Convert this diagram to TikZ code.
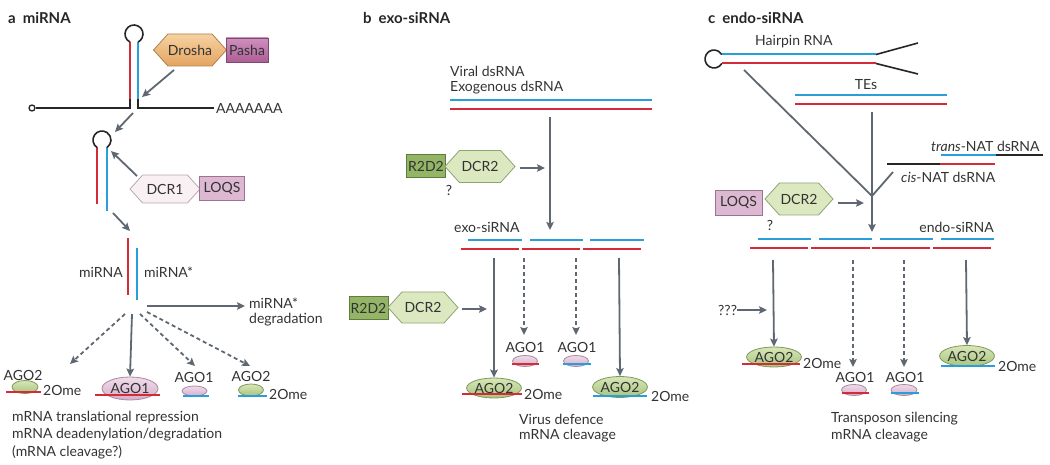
\documentclass[tikz,border=0pt]{standalone}
\usepackage{fontspec}
\setmainfont{Lato}
\usetikzlibrary{arrows.meta,shapes.geometric,shapes.symbols}
\definecolor{rnablue}{HTML}{2A9ED8}
\definecolor{rnared}{HTML}{D42B3A}
\definecolor{arrgrey}{HTML}{5F6872}
\definecolor{txtgrey}{HTML}{333333}
\definecolor{droshaA}{HTML}{F6D2A2}
\definecolor{droshaB}{HTML}{E4A460}
\definecolor{droshaD}{HTML}{B0804A}
\definecolor{pashaA}{HTML}{CE90BE}
\definecolor{pashaB}{HTML}{AE5E96}
\definecolor{pashaD}{HTML}{7E4A70}
\definecolor{dcrOneF}{HTML}{F9F0F4}
\definecolor{dcrOneD}{HTML}{B8A8B0}
\definecolor{loqsF}{HTML}{DDB8D2}
\definecolor{loqsD}{HTML}{9C7490}
\definecolor{rtwoF}{HTML}{94B466}
\definecolor{rtwoD}{HTML}{5E7C3C}
\definecolor{dcrTwoF}{HTML}{DCE8C0}
\definecolor{dcrTwoD}{HTML}{90A474}
\definecolor{agoTwoA}{HTML}{D8E6B8}
\definecolor{agoTwoB}{HTML}{A8C47E}
\definecolor{agoTwoD}{HTML}{7E9A58}
\definecolor{agoOneA}{HTML}{F0DCEA}
\definecolor{agoOneB}{HTML}{D6AECB}
\definecolor{agoOneD}{HTML}{A88AA0}
\tikzset{
 lbl/.style={text=txtgrey, font=\fontsize{14}{16}\selectfont, inner sep=0pt},
 ttl/.style={text=black!85, font=\fontsize{15}{17}\selectfont\bfseries, inner sep=0pt},
 arr/.style={draw=arrgrey, line width=1.8pt, -{Stealth[length=8pt,width=7.5pt,inset=1.5pt]}},
 darr/.style={arr, dash pattern=on 4pt off 3pt},
 gline/.style={draw=arrgrey, line width=1.8pt},
 bs/.style={draw=rnablue, line width=2pt},
 rs/.style={draw=rnared, line width=2pt},
 ks/.style={draw=black!85, line width=1.6pt},
 hexa/.style={shape=signal, signal to=east and west, signal pointer angle=96, lbl, line width=0.8pt},
 boxa/.style={rectangle, lbl, line width=0.8pt},
 egg/.style={ellipse, lbl, line width=0.8pt},
 agotwo/.style={egg, draw=agoTwoD, top color=agoTwoA, bottom color=agoTwoB},
 agoone/.style={egg, draw=agoOneD, top color=agoOneA, bottom color=agoOneB},
 dcrtwo/.style={hexa, draw=dcrTwoD, fill=dcrTwoF, minimum width=70pt, minimum height=32pt},
 rtwo/.style={boxa, draw=rtwoD, fill=rtwoF, minimum width=39pt, minimum height=23pt},
 loqsbox/.style={boxa, draw=loqsD, fill=loqsF, minimum width=47pt, minimum height=25pt},
}
\begin{document}
\begin{tikzpicture}[x=1pt,y=-1pt]
\useasboundingbox (0,0) rectangle (1050,465);
%% ---------------- panel a ----------------
\node[ttl, anchor=west] (ta) at (8,18) {a\hspace{7pt}miRNA};
\node[lbl, anchor=west] (polya) at (216,108) {AAAAAAA};
\node[circle, draw=black!85, line width=1.3pt, fill=white, minimum size=6pt, inner sep=0pt] (capa) at (32,108) {};
\draw[ks] (130,97) -- (130,108) -- (capa);
\draw[ks] (138,97) -- (138,108) -- ([xshift=-2pt]polya.west);
\draw[rs] (130,42) -- (130,99);
\draw[bs] (138,42) -- (138,99);
\draw[ks] (130,42.06) arc[start angle=116.4, end angle=423.6, radius=9];
\node[hexa, draw=droshaD, top color=droshaA, bottom color=droshaB, minimum width=70pt, minimum height=32pt] (drosha) at (190,50) {Drosha};
\node[boxa, draw=pashaD, top color=pashaA, bottom color=pashaB, minimum width=42pt, minimum height=24pt] (pasha) at (247,50) {Pasha};
\coordinate (a1s) at (174,70); \coordinate (a1e) at (142,97);
\draw[arr] (a1s) -- (a1e);
\coordinate (a2s) at (133,113); \coordinate (a2e) at (115,132);
\draw[arr] (a2s) -- (a2e);
% pre-miRNA
\draw[rs] (97,147.5) -- (97,204);
\draw[bs] (107,147.5) -- (107,211);
\draw[ks] (97,147.48) arc[start angle=123.75, end angle=416.25, radius=9];
\node[hexa, draw=dcrOneD, fill=dcrOneF, minimum width=70pt, minimum height=28pt] (dcr1) at (165,189) {DCR1};
\node[loqsbox, minimum width=45pt, minimum height=24pt] (loqsa) at (222,188) {LOQS};
\coordinate (a3s) at (137,176); \coordinate (a3e) at (111,151);
\draw[arr] (a3s) -- (a3e);
\coordinate (a4s) at (113,213); \coordinate (a4e) at (130,231);
\draw[arr] (a4s) -- (a4e);
% duplex
\draw[rs] (128,238) -- (128,295);
\draw[bs] (137,248) -- (137,300);
\node[lbl, anchor=east] (mir) at (123,272) {miRNA};
\node[lbl, anchor=west] (mirs) at (144,272) {miRNA*};
\node[lbl, anchor=west] (degr1) at (249,303) {miRNA*};
\node[lbl, anchor=west] (degr2) at (249,320) {degradation};
\coordinate (a5s) at (147,306); \coordinate (a5e) at (245,306);
\draw[arr] (a5s) -- (a5e);
% AGO nodes a
\node[agotwo, minimum width=26pt, minimum height=13pt] (ag2a) at (25,387) {};
\node[lbl] (ag2at) at (23,375) {AGO2};
\draw[rs] (6,392) -- (41,392);
\node[lbl, anchor=west] (om1) at (43,390) {2Ome};
\node[agoone, minimum width=56pt, minimum height=23pt] (ag1a) at (130,388.5) {AGO1};
\draw[rs] (95,395) -- (160,395);
\node[agoone, minimum width=25pt, minimum height=10pt] (ag1b) at (194.5,391) {};
\node[lbl] (ag1bt) at (194,377) {AGO1};
\draw[bs] (183,396) -- (209,396);
\node[agotwo, minimum width=25pt, minimum height=12pt] (ag2b) at (251,390) {};
\node[lbl] (ag2bt) at (251,376) {AGO2};
\draw[bs] (238,396) -- (267,396);
\node[lbl, anchor=west] (om2) at (269,394) {2Ome};
\coordinate (d1s) at (125,314); \coordinate (d2s) at (132,314);
\coordinate (d3s) at (140,314); \coordinate (d4s) at (147,312);
\draw[darr] (d1s) -- (70,364);
\draw[arr] (d2s) -- (ag1a.north);
\draw[darr] (d3s) -- (195,366);
\draw[darr] (d4s) -- (250,366);
\node[lbl, anchor=west] (fa1) at (12,418) {mRNA translational repression};
\node[lbl, anchor=west] (fa2) at (12,435) {mRNA deadenylation/degradation};
\node[lbl, anchor=west] (fa3) at (12,452) {(mRNA cleavage?)};
%% ---------------- panel b ----------------
\node[ttl, anchor=west] (tb) at (363,18) {b\hspace{7pt}exo-siRNA};
\node[lbl, anchor=west] (vir) at (450,71) {Viral dsRNA};
\node[lbl, anchor=west] (exo) at (450,88) {Exogenous dsRNA};
\draw[bs] (450,100) -- (652,100);
\draw[rs] (450,109) -- (652,109);
\coordinate (b1s) at (550,117); \coordinate (b1e) at (550,230);
\draw[arr] (b1s) -- (b1e);
\node[rtwo] (r2a) at (426,166) {R2D2};
\node[dcrtwo] (dcr2a) at (480,166.5) {DCR2};
\node[lbl] (qb) at (449,190) {?};
\coordinate (b2e) at (545,168);
\draw[arr] ([xshift=4pt]dcr2a.east |- b2e) -- (b2e);
\node[lbl, anchor=west] (exos) at (454,227) {exo-siRNA};
\foreach \u/\v in {468/522,530/583,590/644} \draw[bs] (\u,240) -- (\v,240);
\foreach \u/\v in {461/519,522/580,583/641} \draw[rs] (\u,249) -- (\v,249);
\node[rtwo] (r2b) at (368.5,308) {R2D2};
\node[dcrtwo, minimum height=31pt] (dcr2b) at (423,307.5) {DCR2};
\coordinate (b3e) at (487,309);
\draw[arr] (462,309) -- (b3e);
\node[agotwo, minimum width=52pt, minimum height=20pt] (ag2c) at (494,388) {AGO2};
\draw[rs] (462,394) -- (522,394);
\node[lbl, anchor=west] (om3) at (524,394) {2Ome};
\node[agotwo, minimum width=52pt, minimum height=21pt] (ag2d) at (620,387) {AGO2};
\draw[bs] (593,396) -- (647,396);
\node[lbl, anchor=west] (om4) at (651,396) {2Ome};
\node[lbl] (ag1ct) at (525,347) {AGO1};
\node[agoone, minimum width=25pt, minimum height=11pt] (ag1c) at (525,361) {};
\draw[rs] (512,364) -- (539,364);
\node[lbl] (ag1dt) at (577,347) {AGO1};
\node[agoone, minimum width=25pt, minimum height=11pt] (ag1d) at (576,361) {};
\draw[bs] (563,364) -- (591,364);
\coordinate (b4s) at (494,258); \coordinate (b5s) at (524,258);
\coordinate (b6s) at (576,258); \coordinate (b7s) at (619,258);
\draw[arr] (b4s) -- (ag2c.north);
\draw[darr] (b5s) -- (524,335);
\draw[darr] (b6s) -- (576,335);
\draw[arr] (b7s) -- (ag2d.north);
\node[lbl, anchor=west] (fb1) at (519,419) {Virus defence};
\node[lbl, anchor=west] (fb2) at (519,436) {mRNA cleavage};
%% ---------------- panel c ----------------
\node[ttl, anchor=west] (tc) at (708,18) {c\hspace{7pt}endo-siRNA};
\node[lbl, anchor=west] (hp) at (755,42) {Hairpin RNA};
\draw[ks] (721.8,63.5) arc[start angle=30, end angle=330, radius=9];
\draw[bs] (721.8,54.5) -- (876,54.5);
\draw[rs] (721.8,63.5) -- (876,63.5);
\draw[ks] (876,54.5) -- (918,43);
\draw[ks] (876,63.5) -- (918,74);
\node[lbl] (tes) at (866,85) {TEs};
\draw[bs] (795,95) -- (947,95);
\draw[rs] (795,104) -- (947,104);
\node[lbl, anchor=west] (tnat) at (931,146) {\itshape trans\upshape-NAT dsRNA};
\draw[bs] (941,155) -- (996,155);
\draw[ks] (996,155) -- (1043,155);
\draw[ks] (887,164) -- (940,164);
\draw[rs] (940,164) -- (995,164);
\node[lbl, anchor=west] (cnat) at (901,177) {\itshape cis\upshape-NAT dsRNA};
\coordinate (jn) at (872,196);
\draw[gline] (744,70) -- (jn);
\draw[gline] (893,172) -- (jn);
\coordinate (c1s) at (872,112); \coordinate (c1e) at (872,232);
\draw[arr] (c1s) -- (c1e);
\node[loqsbox] (loqsc) at (738.5,202.5) {LOQS};
\node[dcrtwo, minimum width=68pt] (dcr2c) at (799,199) {DCR2};
\node[lbl] (qc) at (770,225) {?};
\coordinate (c2e) at (864,203);
\draw[arr] (838,203) -- (c2e);
\node[lbl, anchor=east] (endos) at (994,227) {endo-siRNA};
\foreach \u/\v in {758/811,819/872,880/933,941/994} \draw[bs] (\u,239) -- (\v,239);
\foreach \u/\v in {750/808,811/870,872/930,933/991} \draw[rs] (\u,248) -- (\v,248);
\node[agotwo, minimum width=52pt, minimum height=20pt] (ag2e) at (774,357) {AGO2};
\draw[rs] (742,364) -- (800,364);
\node[lbl, anchor=west] (om5) at (803,363) {2Ome};
\node[agotwo, minimum width=52pt, minimum height=21pt] (ag2f) at (967,356) {AGO2};
\draw[bs] (941,366) -- (995,366);
\node[lbl, anchor=west] (om6) at (998,366) {2Ome};
\node[lbl] (ag1et) at (855,377) {AGO1};
\node[agoone, minimum width=25pt, minimum height=11pt] (ag1e) at (854,390) {};
\draw[rs] (842,393) -- (869,393);
\node[lbl] (ag1ft) at (905,377) {AGO1};
\node[agoone, minimum width=26pt, minimum height=11pt] (ag1f) at (904,390) {};
\draw[bs] (891,393) -- (919,393);
\node[lbl, anchor=west] (qqq) at (718,310) {???};
\coordinate (c3e) at (767,310);
\draw[arr] (qqq.east) -- (c3e);
\coordinate (c4s) at (773,260); \coordinate (c5s) at (853,260);
\coordinate (c6s) at (904,260); \coordinate (c7s) at (966,260);
\draw[arr] (c4s) -- (ag2e.north);
\draw[darr] (c5s) -- (853,367);
\draw[darr] (c6s) -- (904,367);
\draw[arr] (c7s) -- (ag2f.north);
\node[lbl, anchor=west] (fc1) at (831,419) {Transposon silencing};
\node[lbl, anchor=west] (fc2) at (831,436) {mRNA cleavage};
\end{tikzpicture}
\end{document}
